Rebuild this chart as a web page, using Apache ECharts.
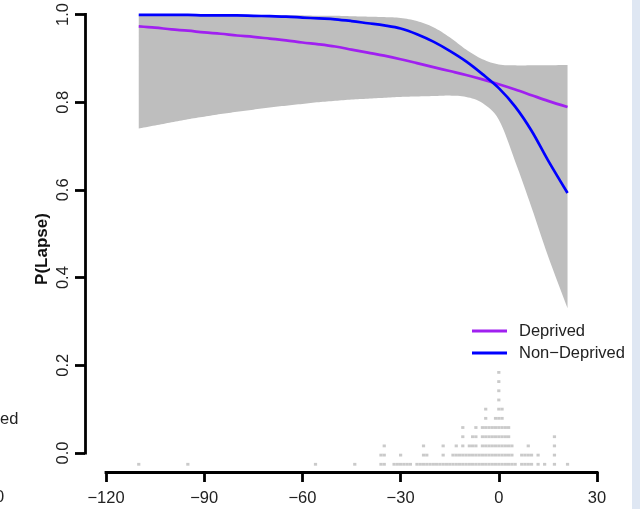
<!DOCTYPE html>
<html>
<head>
<meta charset="utf-8">
<script src="https://cdn.jsdelivr.net/npm/echarts@6/dist/echarts.min.js"></script>
<style>
html,body{margin:0;padding:0;background:#fff;}
#chart{width:640px;height:509px;}
</style>
</head>
<body>
<div id="chart"></div>
<script>
// ---- data ----
const xTickValues = [-120, -90, -60, -30, 0, 30];
const yTickValues = [0, 0.2, 0.4, 0.6, 0.8, 1.0];

const curveX      = [-110,-105,-100,-95,-90,-85,-80,-75,-70,-65,-60,-55,-50,-45,-40,-35,-30,-25,-20,-15,-10,-5,0,5,10,15,21];
const deprived    = [0.973,0.970,0.966,0.963,0.959,0.956,0.952,0.949,0.945,0.941,0.936,0.932,0.927,0.920,0.913,0.906,0.898,0.889,0.880,0.871,0.862,0.852,0.841,0.829,0.816,0.803,0.789];
const nonDeprived = [0.999,0.999,0.999,0.999,0.998,0.998,0.998,0.997,0.996,0.995,0.993,0.991,0.989,0.985,0.980,0.975,0.968,0.955,0.938,0.917,0.893,0.864,0.832,0.790,0.735,0.668,0.593];

const ciUpper = [1.000,1.000,1.000,1.000,0.999,0.999,0.999,0.999,0.999,0.998,0.998,0.997,0.997,0.996,0.995,0.994,0.992,0.985,0.971,0.948,0.920,0.898,0.886,0.884,0.884,0.884,0.885];
const ciLower = [0.740,0.747,0.754,0.761,0.767,0.773,0.778,0.783,0.788,0.792,0.796,0.800,0.803,0.806,0.808,0.810,0.812,0.813,0.814,0.815,0.812,0.798,0.760,0.665,0.560,0.450,0.330];

// stacked dot histogram of observed x values (x value, number of dots)
const dotX     = [-110,-95,-56,-44,-36,-35,-32,-31,-30,-29,-28,-27,-25,-24,-23,-22,-21,-20,-19,-18,-17,-16,-15,-14,-13,-12,-11,-10,-9,-8,-7,-6,-5,-4,-3,-2,-1,0,1,2,3,4,5,7,8,9,10,12,14,17,21];
const dotCount = [1,1,1,1,2,3,1,1,2,1,1,1,1,1,3,2,1,1,1,1,3,1,1,2,3,2,5,2,3,4,5,2,5,7,5,5,6,11,7,5,5,3,1,2,2,3,2,2,1,4,1];

const seriesNames = ['Deprived', 'Non\u2212Deprived'];
const seriesColors = ['#a020f0', '#0000ff'];

// ---- build ----
const pairs = (xs, ys) => xs.map((x, i) => [x, ys[i]]);
const dots = [];
dotX.forEach((x, i) => { for (let r = 1; r <= dotCount[i]; r++) dots.push([x, r]); });

// Catmull-Rom smoothing of pixel points (for the band outline)
function smoothPts(p, steps) {
  const out = [];
  for (let i = 0; i < p.length - 1; i++) {
    const p0 = p[Math.max(i - 1, 0)], p1 = p[i], p2 = p[i + 1], p3 = p[Math.min(i + 2, p.length - 1)];
    for (let s = 0; s < steps; s++) {
      const t = s / steps, t2 = t * t, t3 = t2 * t;
      const f = k => 0.5 * ((2 * p1[k]) + (-p0[k] + p2[k]) * t + (2 * p0[k] - 5 * p1[k] + 4 * p2[k] - p3[k]) * t2 + (-p0[k] + 3 * p1[k] - 3 * p2[k] + p3[k]) * t3);
      out.push([f(0), f(1)]);
    }
  }
  out.push(p[p.length - 1].slice());
  return out;
}

const FONT = '"Liberation Sans", Arial, sans-serif';
const TXT = '#222';
const FS = 16.5;
const SM = 0.35;

const chart = echarts.init(document.getElementById('chart'), null, {renderer: 'canvas'});
chart.setOption({
  animation: false,
  backgroundColor: '#ffffff',
  textStyle: {fontFamily: FONT},
  grid: [
    {left: 85, right: 43, top: 14, bottom: 56},
    {left: 106, right: 43, top: 14, bottom: 37}
  ],
  xAxis: [
    {gridIndex: 0, type: 'value', min: -126.42, max: 30, show: false},
    {gridIndex: 1, type: 'value', min: -120, max: 30, interval: 30,
      axisLine: {show: true, onZero: false, lineStyle: {color: '#000', width: 2.8, cap: 'square'}},
      axisTick: {show: true, length: 10, lineStyle: {color: '#000', width: 2.8}},
      splitLine: {show: false},
      axisLabel: {margin: 18, fontSize: FS, color: TXT, fontFamily: FONT,
        formatter: v => String(v).replace('-', '\u2212')}
    }
  ],
  yAxis: [
    {gridIndex: 0, type: 'value', min: 0, max: 1, interval: 0.2,
      axisLine: {show: true, onZero: false, lineStyle: {color: '#000', width: 2.8, cap: 'square'}},
      axisTick: {show: true, length: 10, lineStyle: {color: '#000', width: 2.8}},
      splitLine: {show: false},
      axisLabel: {rotate: 90, margin: 13, fontSize: FS, color: TXT, fontFamily: FONT,
        formatter: v => v.toFixed(1)}
    },
    {gridIndex: 1, type: 'value', min: 0, max: 1, show: false},
    {gridIndex: 0, type: 'value', min: 2.228, max: 49.946, show: false}
  ],
  legend: {
    orient: 'vertical', left: 472, top: 322, padding: 0, itemGap: 4,
    itemWidth: 35, itemHeight: 3, icon: 'rect',
    data: seriesNames,
    textStyle: {fontSize: FS, lineHeight: 18, color: TXT, fontFamily: FONT, padding: [0, 0, 0, 7]}
  },
  series: [
    {type: 'custom', name: 'ci', xAxisIndex: 0, yAxisIndex: 0, silent: true, clip: false,
      data: pairs(curveX, ciUpper),
      renderItem: function (params, api) {
        if (params.dataIndex !== 0) return null;
        const up = curveX.map((x, i) => api.coord([x, ciUpper[i]]));
        const lo = curveX.map((x, i) => api.coord([x, ciLower[i]]));
        const pts = smoothPts(up, 8).concat(smoothPts(lo, 8).reverse());
        return {type: 'polygon', shape: {points: pts}, style: {fill: '#bebebe', stroke: null}};
      }},
    {type: 'line', name: seriesNames[0], xAxisIndex: 0, yAxisIndex: 0, smooth: SM,
      symbol: 'none', color: seriesColors[0], lineStyle: {width: 2.7, color: seriesColors[0]},
      data: pairs(curveX, deprived)},
    {type: 'line', name: seriesNames[1], xAxisIndex: 0, yAxisIndex: 0, smooth: SM,
      symbol: 'none', color: seriesColors[1], lineStyle: {width: 2.7, color: seriesColors[1]},
      data: pairs(curveX, nonDeprived)},
    {type: 'scatter', name: 'observations', xAxisIndex: 0, yAxisIndex: 2, clip: false,
      symbol: 'rect', symbolSize: [3.2, 2.8], itemStyle: {color: '#bdbdbd'}, silent: true,
      data: dots}
  ],
  graphic: [
    {type: 'rect', left: 632, top: 0, shape: {width: 8, height: 509}, style: {fill: '#dfe7f3'}, silent: true},
    {type: 'text', x: 42, y: 249, rotation: Math.PI / 2,
      style: {text: 'P(Lapse)', font: 'bold 17px ' + FONT, fill: '#111', align: 'center', verticalAlign: 'middle'}},
    {type: 'text', x: 0, y: 419,
      style: {text: 'ed', font: FS + 'px ' + FONT, fill: TXT, align: 'left', verticalAlign: 'middle'}},
    {type: 'text', x: -5, y: 497,
      style: {text: '0', font: FS + 'px ' + FONT, fill: TXT, align: 'left', verticalAlign: 'middle'}}
  ]
});
</script>
</body>
</html>
